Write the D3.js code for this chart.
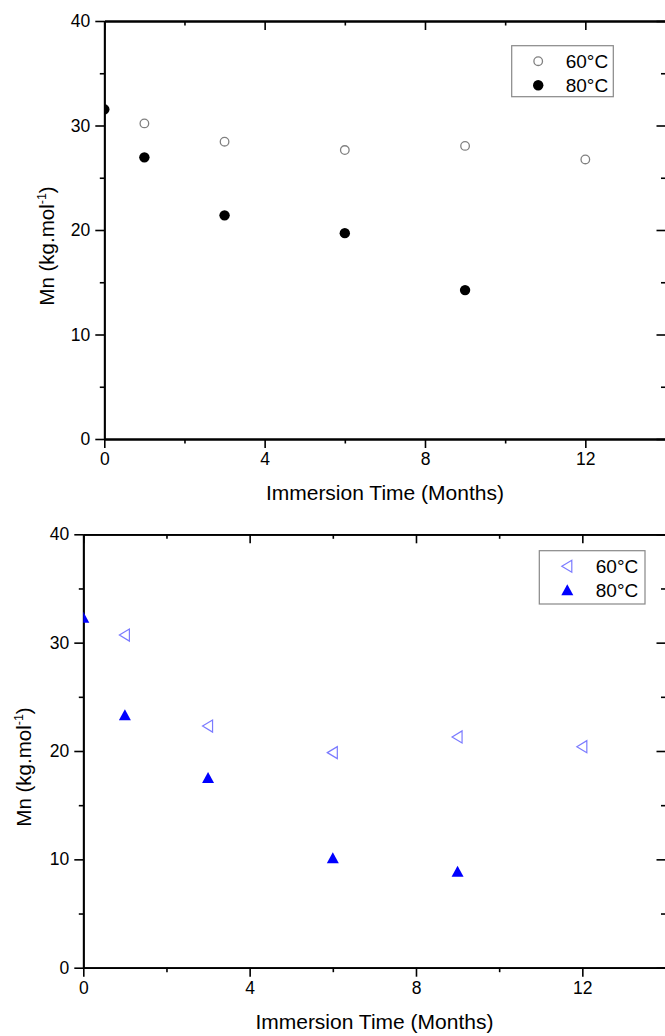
<!DOCTYPE html>
<html>
<head>
<meta charset="utf-8">
<script src="https://cdn.jsdelivr.net/npm/d3@7"></script>
<style>
  html, body { margin: 0; padding: 0; background: #fff; }
  svg { display: block; }
  text { font-family: "Liberation Sans", Arial, sans-serif; fill: #000; }
</style>
</head>
<body>
<svg id="chart" width="665" height="1036"></svg>
<script>
// ---- data ----
const months60 = [1, 3, 6, 9, 12];
const months80 = [0, 1, 3, 6, 9];
const topMn60 = [30.2, 28.45, 27.65, 28.05, 26.75];
const topMn80 = [31.55, 26.95, 21.4, 19.7, 14.25];
const bottomMn60 = [30.7, 22.3, 19.85, 21.3, 20.4];
const bottomMn80 = [32.3, 23.3, 17.5, 10.1, 8.85];
const xMajorTicks = [0, 4, 8, 12];
const xMinorTicks = [2, 6, 10];
const yMajorTicks = [0, 10, 20, 30, 40];
const yMinorTicks = [5, 15, 25, 35];
const seriesLabels = ["60°C", "80°C"];
const xTitle = "Immersion Time (Months)";

const svg = d3.select("#chart");
const defs = svg.append("defs");

function panel(cfg) {
  const { left, right, top, bottom, s60, s80, sym60, sym80, legend, yTitleX, id } = cfg;
  const x = d3.scaleLinear().domain([0, 14]).range([left, right]);
  const y = d3.scaleLinear().domain([0, 40]).range([bottom, top]);
  const g = svg.append("g");

  defs.append("clipPath").attr("id", id)
    .append("rect").attr("x", left).attr("y", top)
    .attr("width", right - left).attr("height", bottom - top);

  const styleAxis = sel => {
    sel.select(".domain").attr("stroke", "#000").attr("stroke-width", 1.8);
    sel.selectAll(".tick line").attr("stroke", "#000").attr("stroke-width", 1.6);
    sel.selectAll(".tick text").attr("font-size", 17.5).attr("fill", "#000")
      .attr("font-family", '"Liberation Sans", Arial, sans-serif');
  };

  // bottom axis
  g.append("g").attr("transform", `translate(0,${bottom})`)
    .call(d3.axisBottom(x).tickValues(xMajorTicks).tickSize(9).tickSizeOuter(0).tickPadding(5).tickFormat(d3.format("d")))
    .call(styleAxis);
  g.append("g").attr("transform", `translate(0,${bottom})`)
    .call(d3.axisBottom(x).tickValues(xMinorTicks).tickSize(4.5).tickSizeOuter(0).tickFormat(""))
    .call(styleAxis);
  // top axis (inward ticks)
  g.append("g").attr("transform", `translate(0,${top})`)
    .call(d3.axisTop(x).tickValues(xMajorTicks).tickSize(-9).tickSizeOuter(0).tickFormat(""))
    .call(styleAxis);
  g.append("g").attr("transform", `translate(0,${top})`)
    .call(d3.axisTop(x).tickValues(xMinorTicks).tickSize(-4.5).tickSizeOuter(0).tickFormat(""))
    .call(styleAxis);
  // left axis
  g.append("g").attr("transform", `translate(${left},0)`)
    .call(d3.axisLeft(y).tickValues(yMajorTicks).tickSize(9).tickSizeOuter(0).tickPadding(5).tickFormat(d3.format("d")))
    .call(styleAxis);
  g.append("g").attr("transform", `translate(${left},0)`)
    .call(d3.axisLeft(y).tickValues(yMinorTicks).tickSize(4.5).tickSizeOuter(0).tickFormat(""))
    .call(styleAxis);
  // right axis (inward ticks)
  g.append("g").attr("transform", `translate(${right},0)`)
    .call(d3.axisRight(y).tickValues(yMajorTicks).tickSize(-9).tickSizeOuter(0).tickFormat(""))
    .call(styleAxis);
  g.append("g").attr("transform", `translate(${right},0)`)
    .call(d3.axisRight(y).tickValues(yMinorTicks).tickSize(-4.5).tickSizeOuter(0).tickFormat(""))
    .call(styleAxis);

  // axis titles
  g.append("text")
    .attr("x", (left + right) / 2).attr("y", bottom + 61)
    .attr("text-anchor", "middle").attr("font-size", 21)
    .text(xTitle);

  const yt = g.append("text")
    .attr("transform", `translate(${yTitleX},${(top + bottom) / 2 + 16}) rotate(-90)`)
    .attr("text-anchor", "middle").attr("font-size", 20.5);
  yt.append("tspan").text("Mn (kg.mol");
  yt.append("tspan").attr("font-size", 12.5).attr("dy", -8).text("-1");
  yt.append("tspan").attr("dy", 8).text(")");

  // points
  const pts = g.append("g").attr("clip-path", `url(#${id})`);
  const d60 = months60.map((m, i) => [m, s60[i]]);
  const d80 = months80.map((m, i) => [m, s80[i]]);
  pts.selectAll(".p60").data(d60).enter().append("path")
    .attr("transform", d => `translate(${x(d[0])},${y(d[1])})`)
    .attr("d", sym60.d).attr("fill", sym60.fill).attr("stroke", sym60.stroke)
    .attr("stroke-width", sym60.sw);
  pts.selectAll(".p80").data(d80).enter().append("path")
    .attr("transform", d => `translate(${x(d[0])},${y(d[1])})`)
    .attr("d", sym80.d).attr("fill", sym80.fill).attr("stroke", sym80.stroke)
    .attr("stroke-width", sym80.sw);

  // legend
  const lg = g.append("g");
  lg.append("rect").attr("x", legend.x).attr("y", legend.y)
    .attr("width", legend.w).attr("height", legend.h)
    .attr("fill", "#fff").attr("stroke", "#888").attr("stroke-width", 1.2);
  [sym60, sym80].forEach((s, i) => {
    const cy = legend.y + legend.row0 + i * 24;
    lg.append("path").attr("transform", `translate(${legend.x + legend.symX},${cy})`)
      .attr("d", s.d).attr("fill", s.fill).attr("stroke", s.stroke).attr("stroke-width", s.sw);
    lg.append("text").attr("x", legend.x + legend.textX).attr("y", cy + 6.5)
      .attr("font-size", 19).text(seriesLabels[i]);
  });
}

const circle = r => d3.arc()({ innerRadius: 0, outerRadius: r, startAngle: 0, endAngle: 2 * Math.PI });
const leftTri = `M-5.5,0L4.5,-6L4.5,6Z`;
const upTri = `M0,-6L6,5L-6,5Z`;

panel({
  id: "clipTop", left: 104.3, right: 665.5, top: 21, bottom: 439,
  s60: topMn60, s80: topMn80,
  sym60: { d: circle(4.3), fill: "#fff", stroke: "#808080", sw: 1.3 },
  sym80: { d: circle(5.2), fill: "#000", stroke: "none", sw: 0 },
  legend: { x: 511.7, y: 45.7, w: 101.6, h: 51, row0: 15.5, symX: 26.5, textX: 54 },
  yTitleX: 54
});

panel({
  id: "clipBottom", left: 83.3, right: 665.5, top: 534.3, bottom: 967.7,
  s60: bottomMn60, s80: bottomMn80,
  sym60: { d: leftTri, fill: "none", stroke: "#7b7bff", sw: 1.2 },
  sym80: { d: upTri, fill: "#0000ff", stroke: "none", sw: 0 },
  legend: { x: 539.3, y: 550.7, w: 105.7, h: 53.3, row0: 15.5, symX: 28, textX: 56.5 },
  yTitleX: 31
});
</script>
</body>
</html>
